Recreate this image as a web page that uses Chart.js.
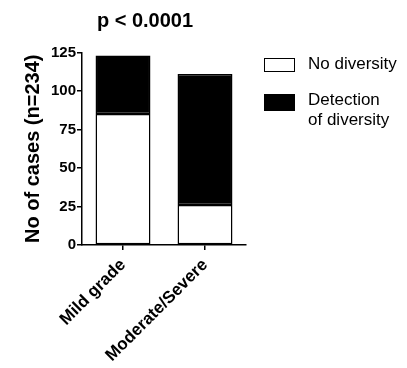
<!DOCTYPE html>
<html>
<head>
<meta charset="utf-8">
<script src="https://cdn.jsdelivr.net/npm/chart.js@4.4.1/dist/chart.umd.min.js"></script>
<style>
  html, body { margin: 0; padding: 0; background: #fff; }
  #wrap { position: relative; width: 407px; height: 368px; font-family: "Liberation Sans", Arial, sans-serif; }
  #c { position: absolute; left: 0; top: 0; }
  #title { position: absolute; left: 145px; top: 8px; transform: translateX(-50%); font-weight: bold; font-size: 20px; color: #000; white-space: nowrap; line-height: 24px; }
  .sw { position: absolute; left: 264px; width: 31px; box-sizing: border-box; border: 1.5px solid #000; }
  .lt { position: absolute; left: 308px; font-size: 17px; line-height: 20px; color: #000; white-space: nowrap; }
</style>
</head>
<body>
<div id="wrap">
  <canvas id="c" width="407" height="368"></canvas>
  <div id="title">p &lt; 0.0001</div>
  <div class="sw" style="top:58px;height:14px;background:#fff;"></div>
  <div class="lt" style="top:54px;">No diversity</div>
  <div class="sw" style="top:94px;height:17px;background:#000;"></div>
  <div class="lt" style="top:90px;">Detection<br>of diversity</div>
</div>
<script>
const categories = ["Mild grade", "Moderate/Severe"];
const noDiversity = [85, 26];
const detectionOfDiversity = [38, 85];
const seriesNames = ["No diversity", "Detection of diversity"];
const yTicks = [0, 25, 50, 75, 100, 125];

const ctx = document.getElementById('c').getContext('2d');
new Chart(ctx, {
  type: 'bar',
  data: {
    labels: categories,
    datasets: [
      { label: seriesNames[0], data: noDiversity, backgroundColor: '#ffffff', borderColor: '#000000', borderWidth: 1.5, borderSkipped: false, categoryPercentage: 1, barPercentage: 0.67 },
      { label: seriesNames[1], data: detectionOfDiversity, backgroundColor: '#000000', borderColor: '#000000', borderWidth: 1.5, borderSkipped: false, categoryPercentage: 1, barPercentage: 0.67 }
    ]
  },
  options: {
    responsive: false,
    animation: false,
    layout: { padding: { top: 52.5, right: 161, left: 0, bottom: 0 } },
    plugins: { legend: { display: false }, title: { display: false }, tooltip: { enabled: false } },
    scales: {
      x: {
        stacked: true,
        offset: true,
        border: { display: true, color: '#000', width: 1.5 },
        grid: { display: true, offset: false, drawOnChartArea: false, drawTicks: true, tickLength: 5, color: '#000', lineWidth: 1.5 },
        ticks: { color: '#000', font: { family: 'Liberation Sans', size: 17, weight: 'bold' }, minRotation: 45, maxRotation: 45, padding: 5 },
        afterFit: (s) => { s.height = 123; }
      },
      y: {
        stacked: true,
        min: 0, max: 125,
        afterBuildTicks: (s) => { s.ticks = yTicks.map(v => ({ value: v })); },
        border: { display: true, color: '#000', width: 1.5 },
        grid: { display: true, drawOnChartArea: false, drawTicks: true, tickLength: 5, color: '#000', lineWidth: 1.5 },
        ticks: { color: '#000', font: { family: 'Liberation Sans', size: 15, weight: 'bold' }, padding: 1 },
        title: { display: true, text: 'No of cases (n=234)', color: '#000', font: { family: 'Liberation Sans', size: 20, weight: 'bold' }, padding: { top: 21, bottom: 0 } },
        afterFit: (s) => { s.width = 82; }
      }
    }
  }
});
</script>
</body>
</html>
